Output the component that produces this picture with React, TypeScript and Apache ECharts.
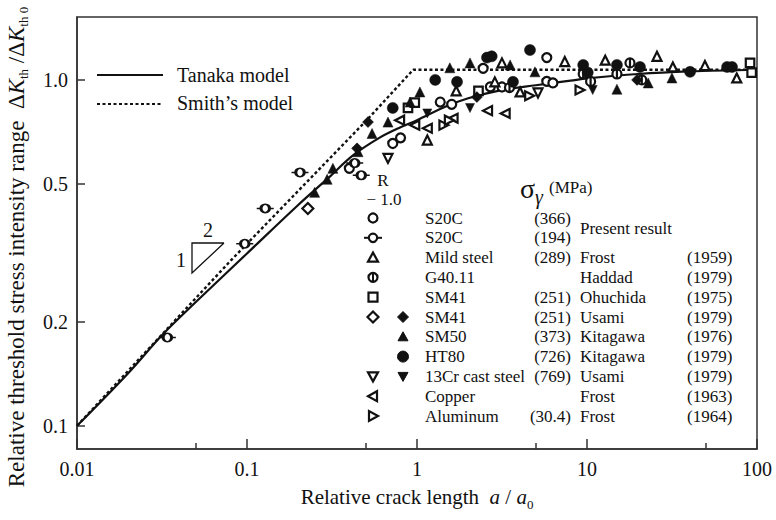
import React, { useEffect, useRef } from "react";
import * as echarts from "echarts";

type Pt = [number, number];

// Axis ticks
const xTickValues = [0.01, 0.1, 1, 10, 100];
const xHalfTickValues = [0.05, 0.5, 5, 50];
const yTickValues = [0.1, 0.2, 0.5, 1.0];

// Model curves: relative crack length a/a0 -> dKth/dKth0
const tanakaModel: Pt[] = [
  [0.01, 0.1], [0.02, 0.142], [0.032, 0.184], [0.05, 0.228], [0.1, 0.315],
  [0.2, 0.435], [0.3, 0.52], [0.42, 0.605], [0.6, 0.68], [0.8, 0.73],
  [1.0, 0.765], [1.5, 0.84], [2, 0.885], [3, 0.93], [5, 0.965], [8, 0.995],
  [10, 1.01], [20, 1.04], [40, 1.058], [100, 1.07],
];
const smithModel: Pt[] = [
  [0.01, 0.1], [0.08, 0.3], [0.5, 0.76], [0.95, 1.07], [100, 1.07],
];

// Experimental data
const s20c366: Pt[] = [
  [0.4, 0.555], [0.72, 0.655], [0.8, 0.68], [1.37, 0.863], [1.6, 0.85],
  [2.45, 1.08], [2.7, 0.955], [3.16, 0.954], [5.8, 1.16], [5.8, 0.99], [6.3, 0.98],
];
const s20c194: Pt[] = [
  [0.034, 0.18], [0.097, 0.336], [0.128, 0.425], [0.205, 0.54], [0.43, 0.575], [0.47, 0.53],
];
const mildSteel: Pt[] = [
  [1.15, 0.67], [1.7, 0.93], [2.87, 0.987], [3.16, 1.12], [4.04, 0.923], [7.4, 1.13],
  [12.8, 1.14], [25.8, 1.17], [32, 1.09], [49.4, 1.1], [76, 1.013],
];
const g4011: Pt[] = [
  [3.5, 0.95], [9.5, 1.04], [10.5, 0.99], [15, 1.04], [17.9, 1.12], [21, 1.0],
];
const sm41Ohuchida: Pt[] = [
  [0.885, 0.83], [0.97, 0.86], [2.3, 0.93], [91, 1.12], [93, 1.05],
];
const sm41UsamiReversed: Pt[] = [[0.228, 0.425]];
const sm41Usami: Pt[] = [
  [0.444, 0.634], [0.515, 0.755], [2.25, 0.892], [19.7, 1.0],
];
const sm50: Pt[] = [
  [0.25, 0.473], [0.296, 0.516], [0.32, 0.555], [0.45, 0.62], [0.544, 0.7],
  [0.675, 0.755], [0.91, 0.863], [1.04, 0.923], [1.56, 1.084], [2.05, 1.12],
  [3.53, 1.105], [4.94, 1.055], [15, 0.94], [22.9, 0.98], [31.6, 1.013],
];
const ht80: Pt[] = [
  [0.72, 0.83], [1.28, 1.0], [1.72, 0.987], [2.58, 1.16], [2.75, 1.17],
  [3.67, 0.987], [4.62, 1.22], [9.5, 1.105], [10.1, 1.05], [15, 1.105],
  [20.5, 1.09], [40.4, 1.055], [66.7, 1.09], [71.3, 1.09],
];
const cr13Reversed: Pt[] = [[0.675, 0.593], [5.15, 0.917]];
const cr13: Pt[] = [[1.15, 0.8], [2.05, 0.829], [10.8, 0.935]];
const copper: Pt[] = [
  [0.79, 0.765], [0.97, 0.74], [1.15, 0.725], [1.63, 0.775], [2.6, 0.815], [3.3, 0.8],
];
const aluminum: Pt[] = [[1.44, 0.74], [1.55, 0.765], [4.6, 0.9], [9.1, 0.935]];

// Table of data sources
const materials = ["S20C", "S20C", "Mild steel", "G40.11", "SM41", "SM41", "SM50", "HT80", "13Cr cast steel", "Copper", "Aluminum"];
const yieldStress = ["(366)", "(194)", "(289)", "", "(251)", "(251)", "(373)", "(726)", "(769)", "", "(30.4)"];
const authors = ["", "", "Frost", "Haddad", "Ohuchida", "Usami", "Kitagawa", "Kitagawa", "Usami", "Frost", "Frost"];
const years = ["", "", "(1959)", "(1979)", "(1975)", "(1979)", "(1976)", "(1979)", "(1979)", "(1963)", "(1964)"];

const INK = "#111";
const FONT = "Liberation Serif";
const BAR_CIRCLE = "path://M0,10L5,10M15,10L20,10M10,5A5,5 0 1 1 10,15A5,5 0 1 1 10,5Z";
const THETA = "path://M10,0A10,10 0 1 1 10,20A10,10 0 1 1 10,0ZM10,0L10,20";

function scatter(name: string, data: Pt[], symbol: string, filled: boolean, rotate = 0, size: any = 9) {
  return {
    type: "scatter",
    name,
    data,
    symbol,
    symbolSize: size,
    symbolRotate: rotate,
    z: 3,
    emphasis: { disabled: true },
    itemStyle: filled
      ? { color: INK, borderColor: INK, borderWidth: 0.5, opacity: 1 }
      : { color: "#fff", borderColor: INK, borderWidth: 2.2, opacity: 1 },
  };
}

function markStyle(filled: boolean) {
  return filled
    ? { fill: INK, stroke: INK, lineWidth: 1 }
    : { fill: "#fff", stroke: INK, lineWidth: 2.2 };
}

function tableSymbols(i: number, cy: number): any[] {
  const xo = 373;
  const xf = 403;
  const tri = (cx: number, filled: boolean, dir: "up" | "down" | "left" | "right") => {
    const s = 5;
    let pts: number[][];
    if (dir === "up") pts = [[cx, cy - s], [cx + s, cy + s * 0.8], [cx - s, cy + s * 0.8]];
    else if (dir === "down") pts = [[cx, cy + s], [cx + s, cy - s * 0.8], [cx - s, cy - s * 0.8]];
    else if (dir === "left") pts = [[cx - s, cy], [cx + s * 0.8, cy - s], [cx + s * 0.8, cy + s]];
    else pts = [[cx + s, cy], [cx - s * 0.8, cy - s], [cx - s * 0.8, cy + s]];
    return { type: "polygon", shape: { points: pts }, style: markStyle(filled) };
  };
  const diamond = (cx: number, filled: boolean) => ({
    type: "polygon",
    shape: { points: [[cx, cy - 5.5], [cx + 5.5, cy], [cx, cy + 5.5], [cx - 5.5, cy]] },
    style: markStyle(filled),
  });
  switch (i) {
    case 0:
      return [{ type: "circle", shape: { cx: xo, cy, r: 4.5 }, style: markStyle(false) }];
    case 1:
      return [
        { type: "line", shape: { x1: xo - 9, y1: cy, x2: xo + 9, y2: cy }, style: { stroke: INK, lineWidth: 2 } },
        { type: "circle", shape: { cx: xo, cy, r: 4.2 }, style: markStyle(false) },
      ];
    case 2:
      return [tri(xo, false, "up")];
    case 3:
      return [
        { type: "circle", shape: { cx: xo, cy, r: 4.5 }, style: markStyle(false) },
        { type: "line", shape: { x1: xo, y1: cy - 4.5, x2: xo, y2: cy + 4.5 }, style: { stroke: INK, lineWidth: 2 } },
      ];
    case 4:
      return [{ type: "rect", shape: { x: xo - 4.5, y: cy - 4.5, width: 9, height: 9 }, style: markStyle(false) }];
    case 5:
      return [diamond(xo, false), diamond(xf, true)];
    case 6:
      return [tri(xf, true, "up")];
    case 7:
      return [{ type: "circle", shape: { cx: xf, cy, r: 5.5 }, style: markStyle(true) }];
    case 8:
      return [tri(xo, false, "down"), tri(xf, true, "down")];
    case 9:
      return [tri(xo, false, "left")];
    default:
      return [tri(xo, false, "right")];
  }
}

function buildGraphic(): any[] {
  const txt = (x: number, y: number, text: string, size: number, align = "left", extra: any = {}) => ({
    type: "text",
    x,
    y,
    z: 10,
    style: { text, fill: INK, fontFamily: FONT, fontSize: size, align, verticalAlign: "middle", ...extra },
  });
  const g: any[] = [];
  // model legend
  g.push({ type: "line", shape: { x1: 97, y1: 75, x2: 163, y2: 75 }, style: { stroke: INK, lineWidth: 2 } });
  g.push({ type: "line", shape: { x1: 97, y1: 104, x2: 163, y2: 104 }, style: { stroke: INK, lineWidth: 2.2, lineDash: [3, 2.5] } });
  g.push(txt(177, 75, "Tanaka model", 20));
  g.push(txt(177, 103, "Smith\u2019s model", 20));
  // slope triangle
  g.push({
    type: "polyline",
    shape: { points: [[224, 243], [192, 243], [192, 273], [224, 243]] },
    style: { stroke: INK, lineWidth: 1.3, fill: null },
  });
  g.push(txt(208, 230, "2", 20, "center"));
  g.push(txt(181, 260, "1", 20, "center"));
  // table header
  g.push(txt(383, 180, "R", 17, "center"));
  g.push(txt(384, 199, "\u2212 1.0", 17, "center"));
  g.push(txt(520, 188, "\u03c3", 28));
  g.push(txt(535, 197, "\u03b3", 20, "left", { fontStyle: "italic" }));
  g.push(txt(549, 187, "(MPa)", 17));
  g.push(txt(580, 228, "Present result", 17));
  for (let i = 0; i < materials.length; i++) {
    const cy = 218 + i * 19.8;
    g.push(...tableSymbols(i, cy));
    g.push(txt(425, cy, materials[i], 17));
    if (yieldStress[i]) g.push(txt(571, cy, yieldStress[i], 17, "right"));
    if (authors[i]) g.push(txt(580, cy, authors[i], 17));
    if (years[i]) g.push(txt(687, cy, years[i], 17));
  }
  // axis titles
  g.push({
    type: "text",
    x: 16,
    y: 247,
    rotation: Math.PI / 2,
    style: {
      text: "Relative threshold stress intensity range  \u0394{k|K}{s|th}{n| /\u0394}{k|K}{s|th 0}",
      fill: INK,
      fontFamily: FONT,
      fontSize: 23,
      lineHeight: 28,
      align: "center",
      verticalAlign: "middle",
      rich: {
        k: { fontFamily: FONT, fontSize: 23, fontStyle: "italic", fill: INK, lineHeight: 28 },
        n: { fontFamily: FONT, fontSize: 23, fill: INK, lineHeight: 28 },
        s: { fontFamily: FONT, fontSize: 13, fill: INK, lineHeight: 28, verticalAlign: "bottom" },
      },
    },
  });
  g.push({
    type: "text",
    x: 417,
    y: 497,
    style: {
      text: "Relative crack length  {i|a} / {i|a}{s|0}",
      fill: INK,
      fontFamily: FONT,
      fontSize: 21,
      lineHeight: 28,
      align: "center",
      verticalAlign: "middle",
      rich: {
        i: { fontFamily: FONT, fontSize: 21, fontStyle: "italic", fill: INK, lineHeight: 28 },
        s: { fontFamily: FONT, fontSize: 13, fill: INK, lineHeight: 28, verticalAlign: "bottom" },
      },
    },
  });
  return g;
}

function fmt(v: number) {
  return String(Number(v.toPrecision(6)));
}

export default function App() {
  const ref = useRef<HTMLDivElement>(null);
  useEffect(() => {
    if (!ref.current) return;
    const chart = echarts.init(ref.current, undefined, { renderer: "svg" });
    const axisLineStyle = { color: "#333", width: 1.5 };
    chart.setOption({
      animation: false,
      backgroundColor: "#fff",
      textStyle: { fontFamily: FONT },
      grid: { left: 77, right: 19, top: 17, bottom: 71, show: true, borderColor: "#333", borderWidth: 1.5 },
      xAxis: [
        {
          type: "log",
          logBase: 10,
          min: 0.01,
          max: 100,
          axisLine: { lineStyle: axisLineStyle },
          axisTick: { inside: true, length: 10, customValues: xTickValues, lineStyle: axisLineStyle },
          axisLabel: { customValues: xTickValues, color: INK, fontSize: 20, margin: 10, formatter: (v: number) => fmt(v) },
          splitLine: { show: false },
        },
        {
          type: "log",
          logBase: 10,
          min: 0.01,
          max: 100,
          position: "bottom",
          axisLine: { show: false },
          axisTick: { inside: true, length: 6, customValues: xHalfTickValues, lineStyle: axisLineStyle },
          axisLabel: { show: false },
          splitLine: { show: false },
        },
      ],
      yAxis: {
        type: "log",
        logBase: 10,
        min: 0.0857,
        max: 1.52,
        axisLine: { lineStyle: axisLineStyle },
        axisTick: { inside: true, length: 8, customValues: yTickValues, lineStyle: axisLineStyle },
        axisLabel: { customValues: yTickValues, color: INK, fontSize: 20, margin: 9, formatter: (v: number) => v.toFixed(1) },
        splitLine: { show: false },
      },
      series: [
        {
          type: "line",
          name: "Tanaka model",
          data: tanakaModel,
          smooth: 0.35,
          showSymbol: false,
          z: 2,
          lineStyle: { color: INK, width: 2.2 },
          emphasis: { disabled: true },
        },
        {
          type: "line",
          name: "Smith\u2019s model",
          data: smithModel,
          showSymbol: false,
          z: 2,
          lineStyle: { color: INK, width: 2.4, type: [3, 2.5] },
          emphasis: { disabled: true },
        },
        scatter("S20C (366)", s20c366, "circle", false),
        scatter("S20C (194)", s20c194, BAR_CIRCLE, false, 0, [17, 8.5]),
        scatter("Mild steel", mildSteel, "triangle", false),
        scatter("G40.11", g4011, THETA, false),
        scatter("SM41 Ohuchida", sm41Ohuchida, "rect", false, 0, 8.5),
        scatter("SM41 Usami R=-1", sm41UsamiReversed, "diamond", false, 0, 11),
        scatter("SM41 Usami", sm41Usami, "diamond", true, 0, 11),
        scatter("SM50", sm50, "triangle", true, 0, 10),
        scatter("HT80", ht80, "circle", true, 0, 11),
        scatter("13Cr cast steel R=-1", cr13Reversed, "triangle", false, 180),
        scatter("13Cr cast steel", cr13, "triangle", true, 180),
        scatter("Copper", copper, "triangle", false, 90),
        scatter("Aluminum", aluminum, "triangle", false, -90),
      ],
      graphic: buildGraphic(),
    });
    return () => chart.dispose();
  }, []);
  return (
    <div
      ref={ref}
      style={{ position: "absolute", left: 0, top: 0, width: 776, height: 520, background: "#fff" }}
    />
  );
}
